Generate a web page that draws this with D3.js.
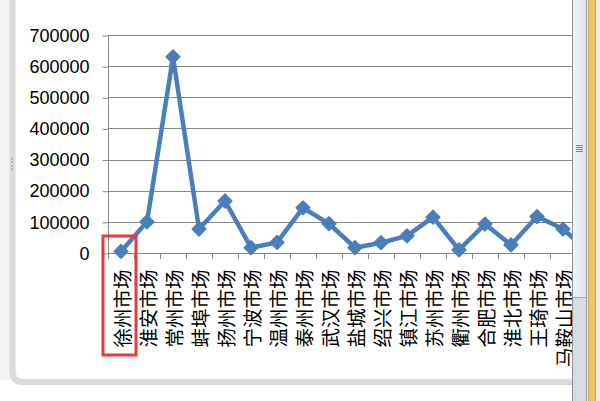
<!DOCTYPE html>
<html><head><meta charset="utf-8">
<script src="https://cdn.jsdelivr.net/npm/d3@7"></script>
<style>html,body{margin:0;padding:0;background:#fff;overflow:hidden}</style>
</head><body>
<svg id="c" width="600" height="401"></svg>
<script>
const categories = ["徐州市场","淮安市场","常州市场","蚌埠市场","扬州市场","宁波市场","温州市场","泰州市场","武汉市场","盐城市场","绍兴市场","镇江市场","苏州市场","衢州市场","合肥市场","淮北市场","王琦市场","马鞍山市场",""];
const values = [5000,100000,630000,77000,167000,17000,34000,145000,94000,17000,33000,55000,115000,10000,93000,26000,117000,77000,3000];
const yTicks = [0,100000,200000,300000,400000,500000,600000,700000];
const title = "销售量";

const svg = d3.select("#c");
svg.append("rect").attr("x",0).attr("y",0).attr("width",600).attr("height",401).attr("fill","#fff");
svg.append("rect").attr("x",0).attr("y",0).attr("width",10).attr("height",380).attr("fill","#f3f3f3");
svg.append("rect").attr("x",12.5).attr("y",-30).attr("width",700).attr("height",412).attr("rx",9)
  .attr("fill","#fff").attr("stroke","#dadada").attr("stroke-width",6);
svg.append("rect").attr("x",15.5).attr("y",-30).attr("width",700).attr("height",409).attr("rx",7)
  .attr("fill","none").attr("stroke","#e9e9e9").attr("stroke-width",1);
[0,1,2,3].forEach(i=>svg.append("rect").attr("x",11).attr("y",158+i*3.5).attr("width",2).attr("height",1.5).attr("fill","#a8a8a8"));

const x = d3.scaleBand().domain(categories).range([108, 108 + 26*categories.length]);
const y = d3.scaleLinear().domain([0,700000]).range([253,35]);

// title (cut off at the top, as in the reference)
svg.append("text").attr("x",410).attr("y",-4).attr("text-anchor","end")
  .attr("font-family","Noto Sans CJK SC").attr("font-weight","bold").attr("font-size",32).attr("fill","#000").text(title);

svg.append("g").selectAll("line").data(yTicks.filter(d=>d>0)).join("line")
  .attr("x1",108).attr("x2",572).attr("y1",d=>Math.round(y(d))+0.5).attr("y2",d=>Math.round(y(d))+0.5)
  .attr("stroke","#878787").attr("stroke-width",1);

const yAxis = d3.axisLeft(y).tickValues(yTicks).tickFormat(d3.format("d")).tickSize(6).tickPadding(13);
const gy = svg.append("g").attr("transform","translate(108.5,0.5)").call(yAxis);
gy.select(".domain").attr("stroke","#878787").attr("d","M0,"+Math.round(y(700000))+"V"+Math.round(y(0)));
gy.selectAll(".tick line").attr("stroke","#878787");
gy.selectAll("text").attr("font-family","Liberation Sans, Arial").attr("font-size",18).attr("fill","#000");

const xAxis = d3.axisBottom(x).tickSize(0).tickFormat(d=>d);
const gx = svg.append("g").attr("transform","translate(0,"+(Math.round(y(0))+0.5)+")").call(xAxis);
gx.select(".domain").attr("stroke","#878787").attr("d","M108,0H572");
gx.selectAll(".tick text").attr("font-family","Noto Sans CJK SC").attr("font-size",19.5).attr("fill","#000")
  .attr("transform","translate(0,16) rotate(-90)").attr("text-anchor","end").attr("dy","0").attr("y",0).attr("x",0)
  .attr("dominant-baseline","central");
svg.append("g").selectAll("line").data(categories).join("line")
  .attr("x1",d=>Math.round(x(d))+0.5).attr("x2",d=>Math.round(x(d))+0.5)
  .attr("y1",Math.round(y(0))).attr("y2",Math.round(y(0))+6).attr("stroke","#878787");

const cx = d=>x(d)+x.bandwidth()/2;
const line = d3.line().x((d,i)=>cx(categories[i])).y(d=>y(d));
svg.append("path").datum(values).attr("d",line).attr("fill","none")
  .attr("stroke","#4a7ebb").attr("stroke-width",4.5).attr("stroke-linejoin","round");
svg.append("g").selectAll("path").data(values).join("path")
  .attr("transform",(d,i)=>"translate("+cx(categories[i])+","+y(d)+")")
  .attr("d",d3.symbol().type(d3.symbolDiamond2).size(120)).attr("fill","#4a7ebb").attr("stroke","#4a7ebb").attr("stroke-width",1.5).attr("stroke-linejoin","round");

svg.append("rect").attr("x",103).attr("y",236).attr("width",33).attr("height",119)
  .attr("fill","none").attr("stroke","#ea3b3b").attr("stroke-width",3);

const grad = svg.append("defs").append("linearGradient").attr("id","sb");
grad.append("stop").attr("offset","0").attr("stop-color","#f4f5f8");
grad.append("stop").attr("offset","1").attr("stop-color","#dde1e8");
svg.append("rect").attr("x",572).attr("y",0).attr("width",15).attr("height",401).attr("fill","#d7dbe3");
svg.append("rect").attr("x",572).attr("y",0).attr("width",15).attr("height",297).attr("fill","url(#sb)");
svg.append("line").attr("x1",573).attr("x2",586).attr("y1",297.5).attr("y2",297.5).attr("stroke","#a3a8b1");
svg.append("line").attr("x1",572.5).attr("x2",572.5).attr("y1",0).attr("y2",401).attr("stroke","#8d939c");
svg.append("line").attr("x1",586.5).attr("x2",586.5).attr("y1",0).attr("y2",401).attr("stroke","#9aa0a8");
[0,1,2,3].forEach(i=>svg.append("line").attr("x1",576).attr("x2",583).attr("y1",145.5+i*2).attr("y2",145.5+i*2).attr("stroke","#7d838c"));
svg.append("rect").attr("x",587).attr("y",0).attr("width",13).attr("height",401).attr("fill","#ececec");
svg.append("rect").attr("x",588.5).attr("y",-1).attr("width",7).attr("height",403).attr("fill","#efc66c").attr("stroke","#d2a64c");
</script>
</body></html>
